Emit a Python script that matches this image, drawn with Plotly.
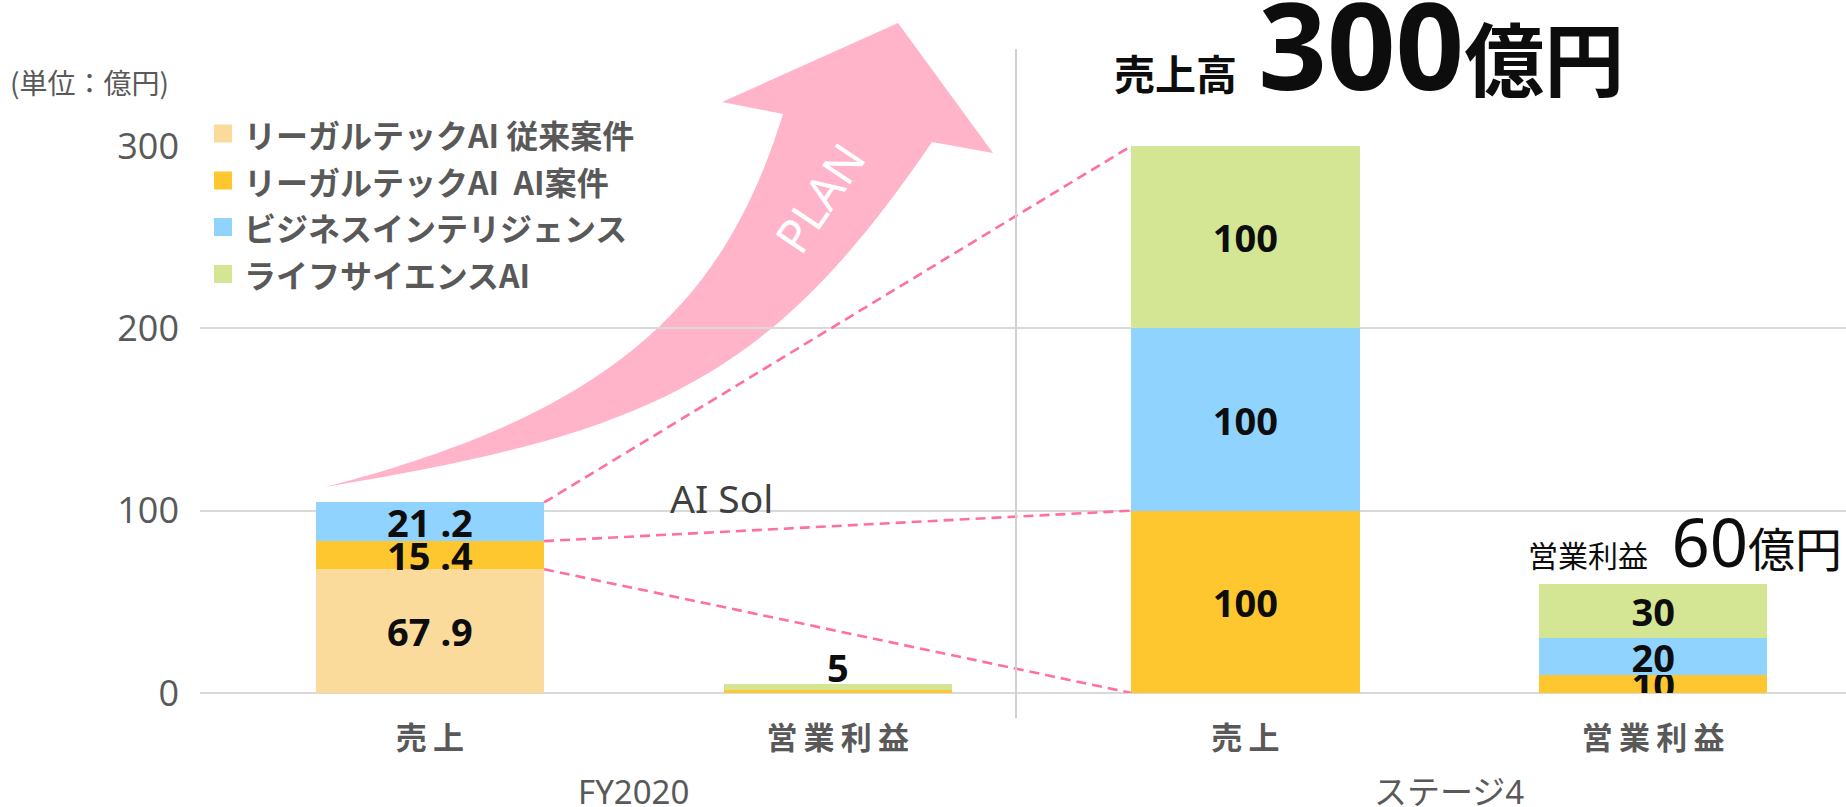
import plotly.graph_objects as go

# ---- data -------------------------------------------------------------
categories = ["売上", "営業利益", "売上", "営業利益"]
groups = ["FY2020", "ステージ4"]
group_members = [[0, 1], [2, 3]]

series_names = [
    "リーガルテックAI 従来案件",
    "リーガルテックAI  AI案件",
    "ビジネスインテリジェンス",
    "ライフサイエンスAI",
]
legal_conventional = [67.9, 0, 0, 0]
legal_ai = [15.4, 1.5, 100, 10]
business_intel = [21.2, 0, 100, 20]
life_science = [0, 3.5, 100, 30]

# bars whose segments carry their own value labels
segment_labels_on = [True, False, True, True]
# bars labelled with their total above the stack
total_labels_on = [False, True, False, False]

y_ticks = [0, 100, 200, 300]

colors = ["#FADB9C", "#FFC72F", "#8FD3FE", "#D4E693"]
pink_line = "#FF6F9F"
arrow_pink = "#FFB4CA"
grey_text = "#595959"

series_values = [legal_conventional, legal_ai, business_intel, life_science]

# ---- geometry helpers (pixel -> paper) --------------------------------
FIG_W, FIG_H = 1846, 807
M_L, M_R, M_T, M_B = 200, 0, 146, 114
PLOT_W = FIG_W - M_L - M_R
PLOT_H = FIG_H - M_T - M_B
PLOT_BOTTOM = FIG_H - M_B


def fx(px):
    return (px - M_L) / PLOT_W


def fy(py):
    return (PLOT_BOTTOM - py) / PLOT_H


def fmt(v):
    if float(v).is_integer():
        return f"{v:.0f}"
    return f"{v:.1f}".replace(".", " .")


def spaced(label):
    # slightly tracked-out category captions
    return "\u2009".join(label)


x_pos = list(range(len(categories)))
bar_width = 0.56
x_range = [-0.564, 3.473]
label_font = dict(family="Noto Sans, Noto Sans CJK JP", size=38,
                  color="#0D0D0D", weight="bold")

fig = go.Figure()

# ---- stacked bars -----------------------------------------------------
for name, vals, col in zip(series_names, series_values, colors):
    texts = [fmt(v) if (on and v > 0) else "" for v, on in zip(vals, segment_labels_on)]
    fig.add_trace(go.Bar(
        x=x_pos, y=vals, name=name, width=bar_width,
        marker=dict(color=col, line=dict(width=0)),
        text=texts, textposition="inside", insidetextanchor="middle",
        constraintext="none", textangle=0,
        textfont=label_font,
        showlegend=False, hoverinfo="skip",
    ))

# ---- dashed connectors: FY2020 sales stack -> stage 4 sales stack ------
def cumulative(bar):
    out, acc = [], 0
    for s in series_values:
        acc += s[bar]
        out.append(acc)
    return out


src, dst = 0, 2
cum_src, cum_dst = cumulative(src), cumulative(dst)
for k in [0, 1, 3]:
    fig.add_trace(go.Scatter(
        x=[src + bar_width / 2, dst - bar_width / 2],
        y=[cum_src[k], cum_dst[k]],
        mode="lines",
        line=dict(color=pink_line, width=2.6, dash="10px,6px"),
        showlegend=False, hoverinfo="skip", cliponaxis=False,
    ))

# ---- decorations ------------------------------------------------------
shapes = []
annotations = []

# totals above small stacks
totals = [sum(s[i] for s in series_values) for i in x_pos]
for i in x_pos:
    if total_labels_on[i]:
        annotations.append(dict(
            xref="x", yref="y", x=i, y=totals[i], yanchor="middle",
            yshift=17, showarrow=False, text=f"{totals[i]:g}", font=label_font,
        ))


# curved "PLAN" arrow (pixel outline, converted to paper units)
def P(px, py):
    return f"{fx(px):.5f},{fy(py):.5f}"


arrow_path = (
    f"M {P(325, 487)} "
    f"C {P(655, 433)} {P(772, 377)} {P(932, 142)} "
    f"L {P(993, 153)} L {P(898, 23)} L {P(722, 102)} L {P(783, 114)} "
    f"C {P(727, 294)} {P(625, 410)} {P(325, 487)} Z"
)
shapes.append(dict(type="path", xref="paper", yref="paper", path=arrow_path,
                   fillcolor=arrow_pink, line=dict(width=0), layer="below"))

# divider between the two periods
shapes.append(dict(type="line", xref="paper", yref="paper",
                   x0=fx(1016), x1=fx(1016), y0=fy(49), y1=fy(718),
                   line=dict(color="#D0D0D0", width=2)))

# legend (swatch + label per series)
legend_rows = [133.5, 180.5, 227, 274]
for name, col, ry in zip(series_names, colors, legend_rows):
    shapes.append(dict(type="rect", xref="paper", yref="paper",
                       x0=fx(214), x1=fx(232), y0=fy(ry - 9), y1=fy(ry + 9),
                       fillcolor=col, line=dict(width=0)))
    annotations.append(dict(
        xref="paper", yref="paper", x=fx(242), y=fy(ry),
        xanchor="left", yanchor="middle", showarrow=False,
        text=f"<b>{name}</b>",
        font=dict(family="Noto Sans CJK JP", size=32, color=grey_text),
    ))

# unit note
annotations.append(dict(
    xref="paper", yref="paper", x=fx(8), y=fy(82),
    xanchor="left", yanchor="middle", showarrow=False,
    text="(単位：億円)",
    font=dict(family="Noto Sans CJK JP", size=28, color=grey_text),
))

# group labels under the category labels
for g, members in zip(groups, group_members):
    annotations.append(dict(
        xref="x", yref="paper", x=sum(members) / len(members), y=fy(791),
        xanchor="center", yanchor="middle", showarrow=False, text=g,
        font=dict(family="Noto Sans, Noto Sans CJK JP", size=33, color=grey_text),
    ))

# headline: sales target
annotations.append(dict(
    xref="paper", yref="paper", x=fx(1112), y=fy(127),
    xanchor="left", yanchor="bottom", showarrow=False,
    text=("<b><span style='font-size:41px'>売上高&nbsp;&nbsp;</span>"
          "<span style='font-size:120px'>300</span>"
          "<span style='font-size:80px'>億円</span></b>"),
    font=dict(family="Noto Sans, Noto Sans CJK JP", size=41, color="#0D0D0D"),
))

# operating profit target
annotations.append(dict(
    xref="paper", yref="paper", x=fx(1526), y=fy(589),
    xanchor="left", yanchor="bottom", showarrow=False,
    text=("<span style='font-size:30px'>営業利益&nbsp;&nbsp;&nbsp;</span>"
          "<span style='font-size:67px'>60</span>"
          "<span style='font-size:47px'>億円</span>"),
    font=dict(family="Noto Sans, Noto Sans CJK JP", size=30, color="#0D0D0D"),
))

# segment note
annotations.append(dict(
    xref="paper", yref="paper", x=fx(721), y=fy(497),
    xanchor="center", yanchor="middle", showarrow=False, text="AI Sol",
    font=dict(family="Noto Sans, Noto Sans CJK JP", size=39, color="#404040"),
))

# arrow caption
annotations.append(dict(
    xref="paper", yref="paper", x=fx(819), y=fy(198),
    xanchor="center", yanchor="middle", showarrow=False, text="PLAN",
    textangle=-56,
    font=dict(family="Noto Sans", size=47, color="white"),
))

fig.update_layout(
    width=FIG_W, height=FIG_H,
    margin=dict(l=M_L, r=M_R, t=M_T, b=M_B, pad=0),
    barmode="stack",
    plot_bgcolor="white", paper_bgcolor="white",
    showlegend=False,
    shapes=shapes, annotations=annotations,
    xaxis=dict(
        range=x_range, tickvals=x_pos,
        ticktext=[f"<b>{spaced(c)}</b>" for c in categories],
        tickfont=dict(family="Noto Sans CJK JP", size=31, color=grey_text),
        showgrid=False, zeroline=False, showline=False, ticks="",
        ticklabelstandoff=24,
    ),
    yaxis=dict(
        range=[0, 300], tickvals=y_ticks,
        tickfont=dict(family="Open Sans", size=36, color=grey_text),
        showgrid=True, gridcolor="#D9D9D9", gridwidth=1.6,
        zeroline=True, zerolinecolor="#D9D9D9", zerolinewidth=1.6,
        showline=False, ticks="", ticklabelstandoff=20,
    ),
)

fig.write_html("out.html")
